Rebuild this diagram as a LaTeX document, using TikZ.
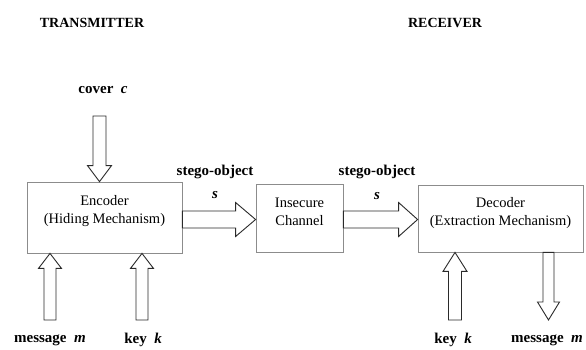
\documentclass[tikz,border=0pt]{standalone}
\usepackage{fontspec}
\setmainfont{Liberation Serif}
\usetikzlibrary{calc}
\definecolor{boxgray}{HTML}{8C8C8C}
\definecolor{arrowline}{HTML}{2A2A2A}
\tikzset{
  blockbox/.style={draw=boxgray, line width=0.8pt, fill=white, inner sep=0pt},
  boxtext/.style={align=center, font=\fontsize{14.5}{18}\selectfont, inner sep=0pt},
  lab/.style={font=\fontsize{15}{17}\selectfont\bfseries, inner sep=0pt},
  head/.style={font=\fontsize{14}{16}\selectfont\bfseries, inner sep=0pt},
  barrow/.style={draw=arrowline, fill=white, line width=0.9pt, line join=miter},
}
% block arrow: tail, tip, half shaft, half head, head length
\newcommand\blockarrow[5]{%
  \coordinate (ba-h) at ($(#2)!#5!(#1)$);
  \draw[barrow] ($(#1)!#3!90:(#2)$) -- ($(ba-h)!#3!90:(#2)$) -- ($(ba-h)!#4!90:(#2)$)
    -- (#2) -- ($(ba-h)!#4!-90:(#2)$) -- ($(ba-h)!#3!-90:(#2)$) -- ($(#1)!#3!-90:(#2)$) -- cycle;}
\begin{document}
\begin{tikzpicture}[x=1pt,y=-1pt]
\useasboundingbox[fill=white] (0,0) rectangle (586,349);

% headers
\node[head] (tx) at (92,23) {TRANSMITTER};
\node[head] (rx) at (445,23) {RECEIVER};

% boxes
\node[blockbox, minimum width=155pt, minimum height=71pt] (enc) at (104.5,217.5) {};
\node[boxtext] (enctext) at ([yshift=6pt]enc.center) {Encoder\\(Hiding Mechanism)};
\node[blockbox, minimum width=87pt, minimum height=68pt] (chan) at (299.5,218) {};
\node[boxtext] (chantext) at ([yshift=6pt]chan.center) {Insecure\\Channel};
\node[blockbox, minimum width=165pt, minimum height=67pt] (dec) at (500.5,218.5) {};
\node[boxtext] (dectext) at ([yshift=5pt]dec.center) {Decoder\\(Extraction Mechanism)};

% labels
\node[lab] (cover) at (103,90) {cover\ \ \textit{c}};
\node[lab] (msgin) at (50,340) {message\ \ \textit{m}};
\node[lab] (keyin) at (143,340) {key\ \ \textit{k}};
\node[lab] (keyd) at (453,340) {key\ \ \textit{k}};
\node[lab] (msgout) at (547,340) {message\ \ \textit{m}};
\node[lab] (so1) at (215,172) {stego-object};
\node[lab] (s1) at (215,195) {\textit{s}};
\node[lab] (so2) at (377,172) {stego-object};
\node[lab] (s2) at (377,196) {\textit{s}};

% arrow end coordinates
\coordinate (covertail) at (99.5,116);
\coordinate (covertip) at (enc.north -| covertail);
\coordinate (msgtail) at (50,320);
\coordinate (msgtip) at (enc.south -| msgtail);
\coordinate (keytail) at (142,320);
\coordinate (keytip) at (enc.south -| keytail);
\coordinate (s1tail) at (enc.east |- 0,219.5);
\coordinate (s1tip) at (chan.west |- 0,219.5);
\coordinate (s2tail) at (chan.east |- 0,219.5);
\coordinate (s2tip) at (dec.west |- 0,219.5);
\coordinate (dkeytail) at (455,320);
\coordinate (dkeytip) at (dec.south -| dkeytail);
\coordinate (mouttail) at (dec.south -| 548.5,0);
\coordinate (mouttip) at (548.5,320);

\blockarrow{covertail}{covertip}{6.5pt}{12pt}{16pt}
\blockarrow{msgtail}{msgtip}{6pt}{11.5pt}{15pt}
\blockarrow{keytail}{keytip}{6pt}{11.5pt}{15pt}
\blockarrow{s1tail}{s1tip}{8.5pt}{17pt}{20pt}
\blockarrow{s2tail}{s2tip}{8.5pt}{17pt}{19pt}
\blockarrow{dkeytail}{dkeytip}{6.5pt}{12pt}{19pt}
\blockarrow{mouttail}{mouttip}{5.5pt}{11pt}{18pt}
\end{tikzpicture}
\end{document}
